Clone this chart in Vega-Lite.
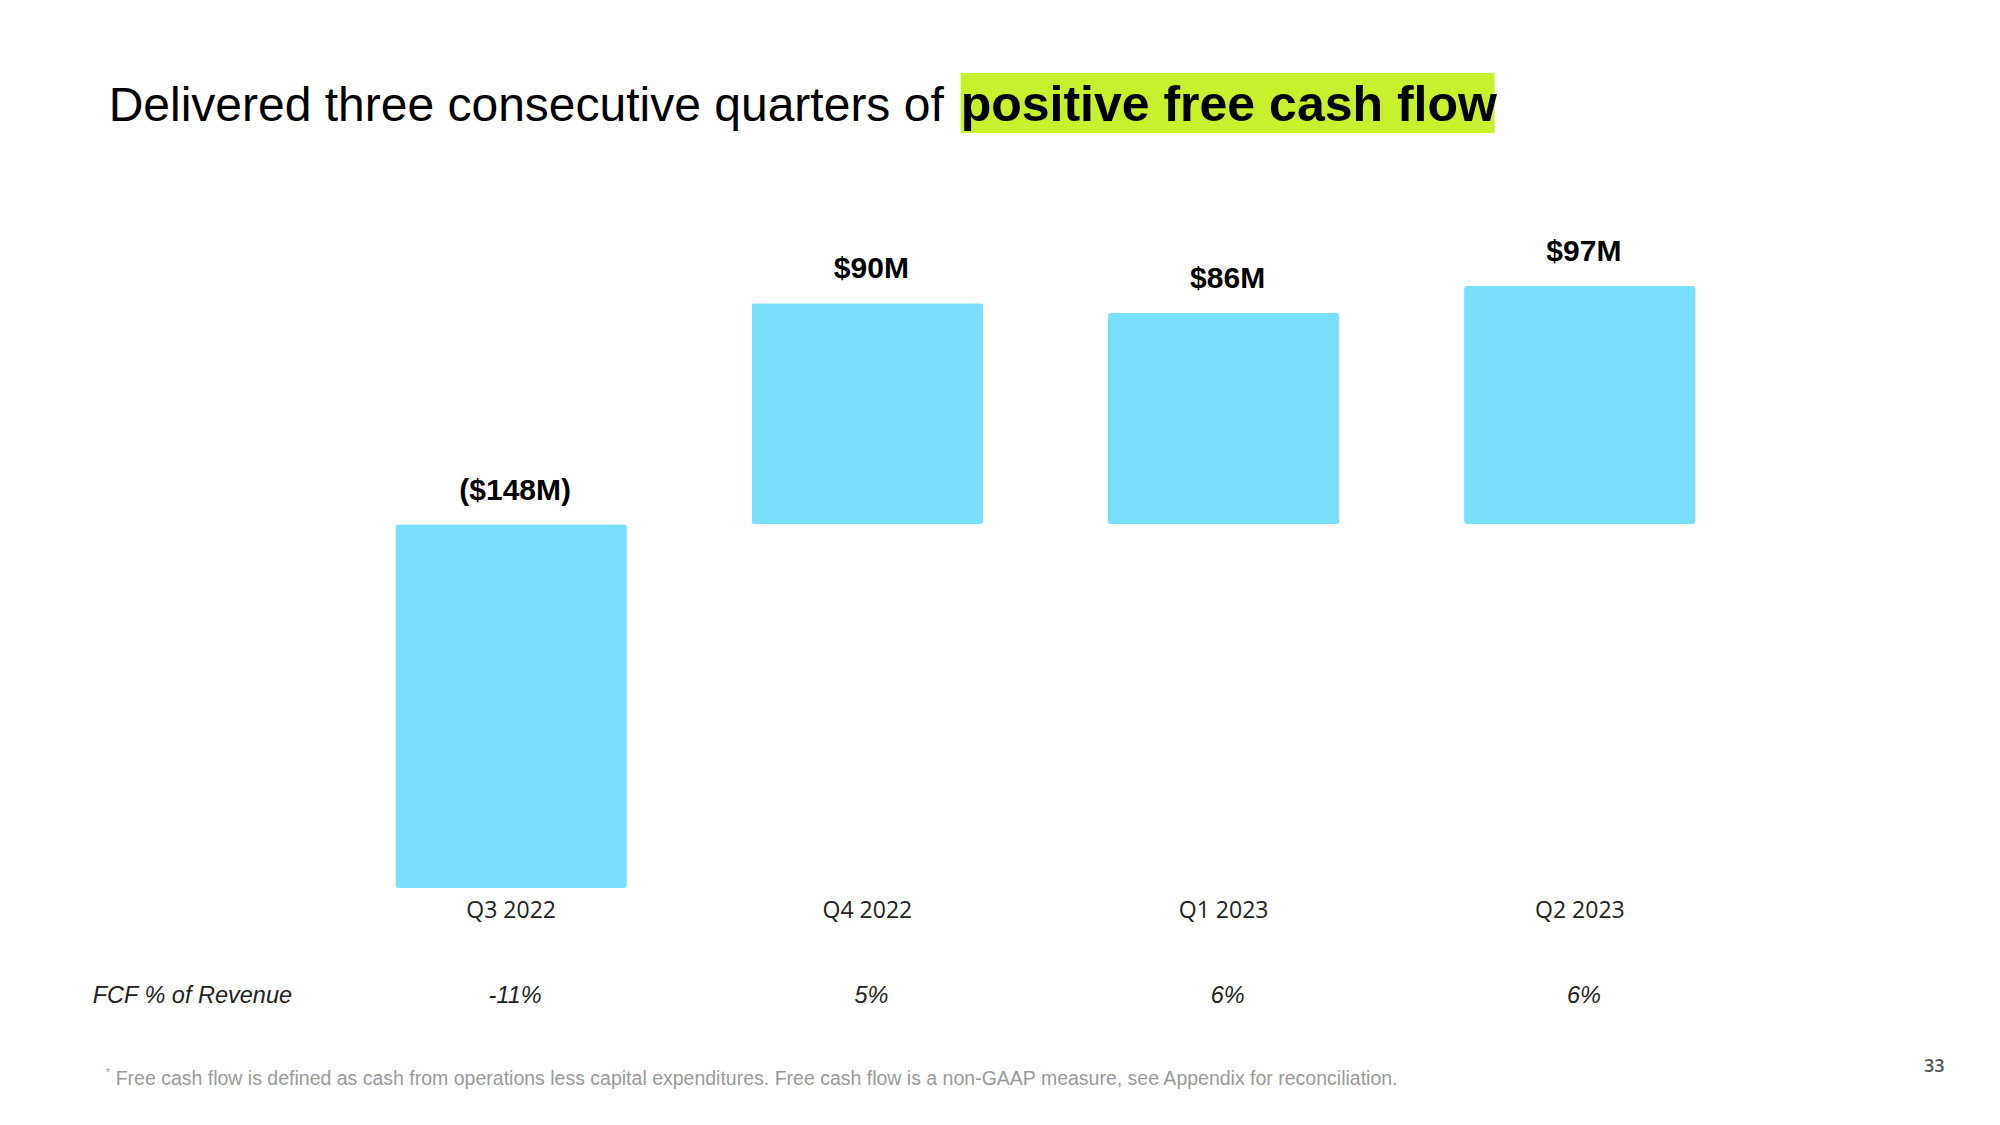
{
  "$schema": "https://vega.github.io/schema/vega-lite/v6.json",
  "width": 1425,
  "height": 602,
  "autosize": {"type": "none"},
  "padding": {"left": 333, "top": 286, "right": 242, "bottom": 237},
  "background": "white",
  "config": {"view": {"stroke": null}},
  "data": {
    "values": [
      {"quarter": "Q3 2022", "fcf": -148, "label": "($148M)", "pct": "-11%"},
      {"quarter": "Q4 2022", "fcf": 90, "label": "$90M", "pct": "5%"},
      {"quarter": "Q1 2023", "fcf": 86, "label": "$86M", "pct": "6%"},
      {"quarter": "Q2 2023", "fcf": 97, "label": "$97M", "pct": "6%"}
    ]
  },
  "encoding": {
    "x": {
      "field": "quarter",
      "type": "nominal",
      "sort": null,
      "scale": {"paddingInner": 0.35, "paddingOuter": 0.175},
      "axis": {
        "title": null,
        "orient": "bottom",
        "domain": false,
        "ticks": false,
        "grid": false,
        "labelAngle": 0,
        "labelFont": "Open Sans",
        "labelFontSize": 23,
        "labelColor": "#222222",
        "labelPadding": 22,
        "labelBaseline": "middle"
      }
    }
  },
  "layer": [
    {
      "mark": {"type": "bar", "color": "#79DFFC", "cornerRadius": 3},
      "encoding": {
        "y": {
          "field": "fcf",
          "type": "quantitative",
          "scale": {"domain": [-148, 97], "nice": false, "zero": false},
          "axis": null
        }
      }
    },
    {
      "transform": [{"filter": "datum.fcf >= 0"}],
      "mark": {"type": "text", "font": "Liberation Sans", "fontWeight": "bold", "fontSize": 30, "baseline": "alphabetic", "dy": -25, "dx": 4, "color": "#000000"},
      "encoding": {
        "y": {"field": "fcf", "type": "quantitative"},
        "text": {"field": "label"}
      }
    },
    {
      "transform": [{"filter": "datum.fcf < 0"}],
      "mark": {"type": "text", "font": "Liberation Sans", "fontWeight": "bold", "fontSize": 30, "baseline": "alphabetic", "dy": -24, "dx": 4, "color": "#000000"},
      "encoding": {
        "y": {"datum": 0, "type": "quantitative"},
        "text": {"field": "label"}
      }
    },
    {
      "mark": {"type": "text", "font": "Liberation Sans", "fontStyle": "italic", "fontSize": 23.5, "baseline": "alphabetic", "dx": 4, "color": "#222222"},
      "encoding": {
        "y": {"datum": -194.8, "type": "quantitative"},
        "text": {"field": "pct"}
      }
    },
    {
      "data": {"values": [{"t": "FCF % of Revenue"}]},
      "mark": {"type": "text", "font": "Liberation Sans", "fontStyle": "italic", "fontSize": 23.5, "baseline": "alphabetic", "align": "left", "dx": -418.5, "color": "#222222"},
      "encoding": {
        "x": {"datum": "Q3 2022", "type": "nominal"},
        "y": {"datum": -194.8, "type": "quantitative"},
        "text": {"field": "t"}
      }
    },
    {
      "data": {"values": [{"t": "box"}]},
      "mark": {"type": "rect", "color": "#C6F12C", "xOffset": 449.5, "x2Offset": 983.5},
      "encoding": {
        "x": {"datum": "Q3 2022", "type": "nominal", "bandPosition": 0.5},
        "x2": {"datum": "Q3 2022", "bandPosition": 0.5},
        "y": {"datum": 183.69, "type": "quantitative"},
        "y2": {"datum": 159.27}
      }
    },
    {
      "data": {"values": [{"t": "Delivered three consecutive quarters of"}]},
      "mark": {"type": "text", "font": "Liberation Sans", "fontSize": 48, "baseline": "alphabetic", "align": "left", "dx": -402.5, "color": "#000000"},
      "encoding": {
        "x": {"datum": "Q3 2022", "type": "nominal"},
        "y": {"datum": 164.15, "type": "quantitative"},
        "text": {"field": "t"}
      }
    },
    {
      "data": {"values": [{"t": "positive free cash flow"}]},
      "mark": {"type": "text", "font": "Liberation Sans", "fontWeight": "bold", "fontSize": 50, "baseline": "alphabetic", "align": "left", "dx": 449.5, "color": "#000000"},
      "encoding": {
        "x": {"datum": "Q3 2022", "type": "nominal"},
        "y": {"datum": 164.15, "type": "quantitative"},
        "text": {"field": "t"}
      }
    },
    {
      "data": {"values": [{"t": "*"}]},
      "mark": {"type": "text", "font": "Liberation Sans", "fontSize": 11, "baseline": "alphabetic", "align": "left", "dx": -405.5, "color": "#9A9A9A"},
      "encoding": {
        "x": {"datum": "Q3 2022", "type": "nominal"},
        "y": {"datum": -224.5, "type": "quantitative"},
        "text": {"field": "t"}
      }
    },
    {
      "data": {"values": [{"t": "Free cash flow is defined as cash from operations less capital expenditures. Free cash flow is a non-GAAP measure, see Appendix for reconciliation."}]},
      "mark": {"type": "text", "font": "Liberation Sans", "fontSize": 19.5, "baseline": "alphabetic", "align": "left", "dx": -395.5, "color": "#9A9A9A"},
      "encoding": {
        "x": {"datum": "Q3 2022", "type": "nominal"},
        "y": {"datum": -228.2, "type": "quantitative"},
        "text": {"field": "t"}
      }
    },
    {
      "data": {"values": [{"t": "33"}]},
      "mark": {"type": "text", "font": "Open Sans", "fontWeight": 600, "fontSize": 18, "baseline": "middle", "align": "center", "dx": 354.5, "color": "#555555"},
      "encoding": {
        "x": {"datum": "Q2 2023", "type": "nominal"},
        "y": {"datum": -220.86, "type": "quantitative"},
        "text": {"field": "t"}
      }
    }
  ]
}
